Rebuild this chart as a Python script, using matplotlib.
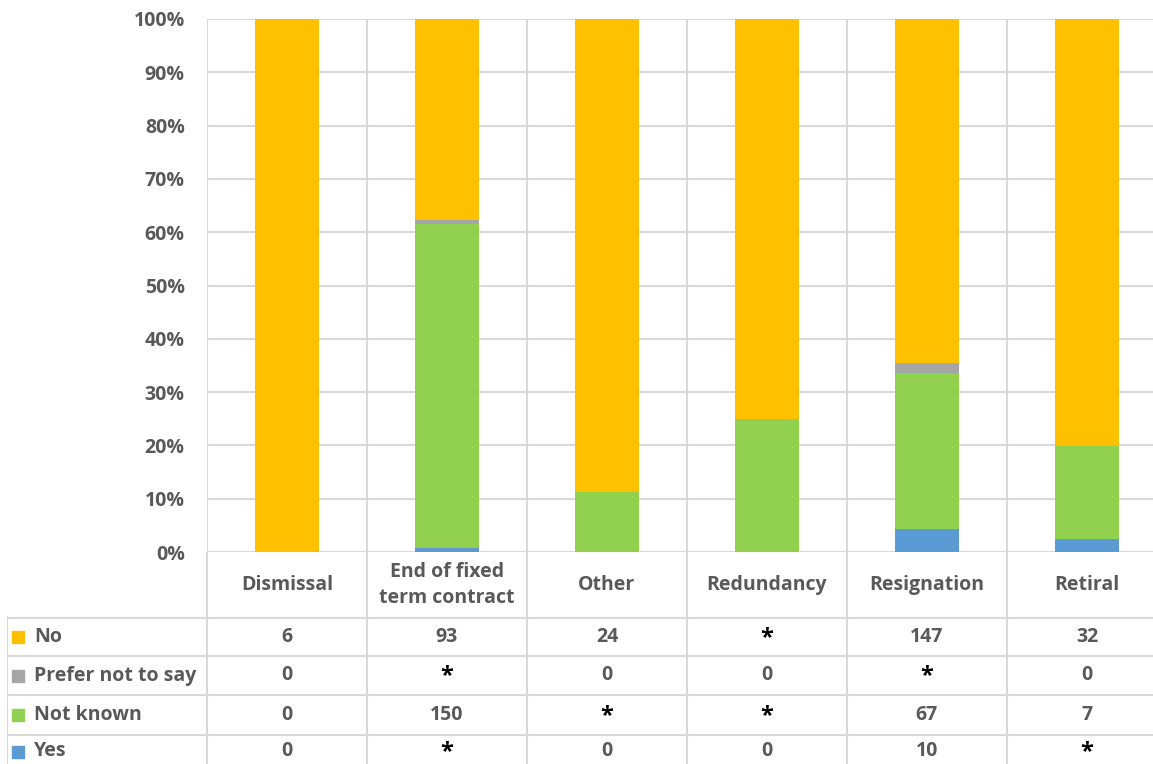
import matplotlib.pyplot as plt
import numpy as np

categories = ['Dismissal', 'End of fixed\nterm contract', 'Other', 'Redundancy', 'Resignation', 'Retiral']
series = ['No', 'Prefer not to say', 'Not known', 'Yes']
colors = {'No': '#FFC000', 'Prefer not to say': '#A5A5A5', 'Not known': '#92D050', 'Yes': '#5B9BD5'}

# percentages
pct_yes = [0, 0.7, 0, 0, 4.3, 2.5]
pct_not_known = [0, 60.8, 11.2, 25.0, 29.2, 17.3]
pct_prefer = [0, 0.7, 0, 0, 1.9, 0]
pct_no = [100, 37.8, 88.8, 75.0, 64.6, 80.2]

# counts shown in the data table
table_no = ['6', '93', '24', '*', '147', '32']
table_prefer = ['0', '*', '0', '0', '*', '0']
table_not_known = ['0', '150', '*', '*', '67', '7']
table_yes = ['0', '*', '0', '0', '10', '*']

plt.rcParams['font.family'] = ['Open Sans', 'DejaVu Sans']
txt = '#595959'
grid = '#D9D9D9'
W, H = 1153, 764
fs = 14

fig = plt.figure(figsize=(W / 100, H / 100), dpi=100)

# chart area
ax = fig.add_axes([207 / W, (H - 552) / H, 960 / W, 533 / H])
x = np.arange(len(categories))
bottom = np.zeros(len(categories))
for name, vals in [('Yes', pct_yes), ('Not known', pct_not_known),
                   ('Prefer not to say', pct_prefer), ('No', pct_no)]:
    ax.bar(x, vals, 0.4, bottom=bottom, color=colors[name], zorder=3)
    bottom += np.array(vals)

ax.set_xlim(-0.5, 5.5)
ax.set_ylim(0, 100)
ax.set_yticks(np.arange(0, 101, 10))
ax.set_yticklabels([f'{v}%' for v in range(0, 101, 10)])
ax.set_xticks([])
for v in range(0, 101, 10):
    ax.axhline(v, color=grid, lw=1.5, zorder=1)
for b in np.arange(-0.5, 6, 1):
    ax.axvline(b, color=grid, lw=1.5, zorder=1)
for s in ax.spines.values():
    s.set_visible(False)
ax.tick_params(axis='y', length=0, pad=16, labelsize=fs, labelcolor=txt)
for lab in ax.get_yticklabels():
    lab.set_fontweight('bold')

# data table below
tb = fig.add_axes([7 / W, 0, 1160 / W, 212 / H])
tb.set_xlim(-1.75, 5.5)
tb.set_ylim(212, 0)
tb.axis('off')
row_edges = [66, 104, 143, 183, 216]
for b in np.arange(-0.5, 6, 1):
    tb.plot([b, b], [0, 212], color=grid, lw=1.5)
tb.plot([-1.75, -1.75], [66, 212], color=grid, lw=1.5)
for y in row_edges[:-1]:
    tb.plot([-1.75, 5.5], [y, y], color=grid, lw=1.5)

for i, c in enumerate(categories):
    tb.text(i, 33, c, ha='center', va='center', fontsize=fs, fontweight='bold',
            color=txt, linespacing=1.35)

rows = [table_no, table_prefer, table_not_known, table_yes]
for r, (name, vals) in enumerate(zip(series, rows)):
    yc = (row_edges[r] + row_edges[r + 1]) / 2
    tb.scatter([-1.68], [yc], marker='s', s=70, color=colors[name])
    tb.text(-1.58, yc, name, ha='left', va='center', fontsize=fs,
            fontweight='bold', color=txt)
    for i, v in enumerate(vals):
        if v == '*':
            tb.text(i, yc + 1, v, ha='center', va='center', fontsize=17,
                    fontweight='bold', color='black')
        else:
            tb.text(i, yc, v, ha='center', va='center', fontsize=fs,
                    fontweight='bold', color=txt)

fig.savefig('out.png', dpi=100)
